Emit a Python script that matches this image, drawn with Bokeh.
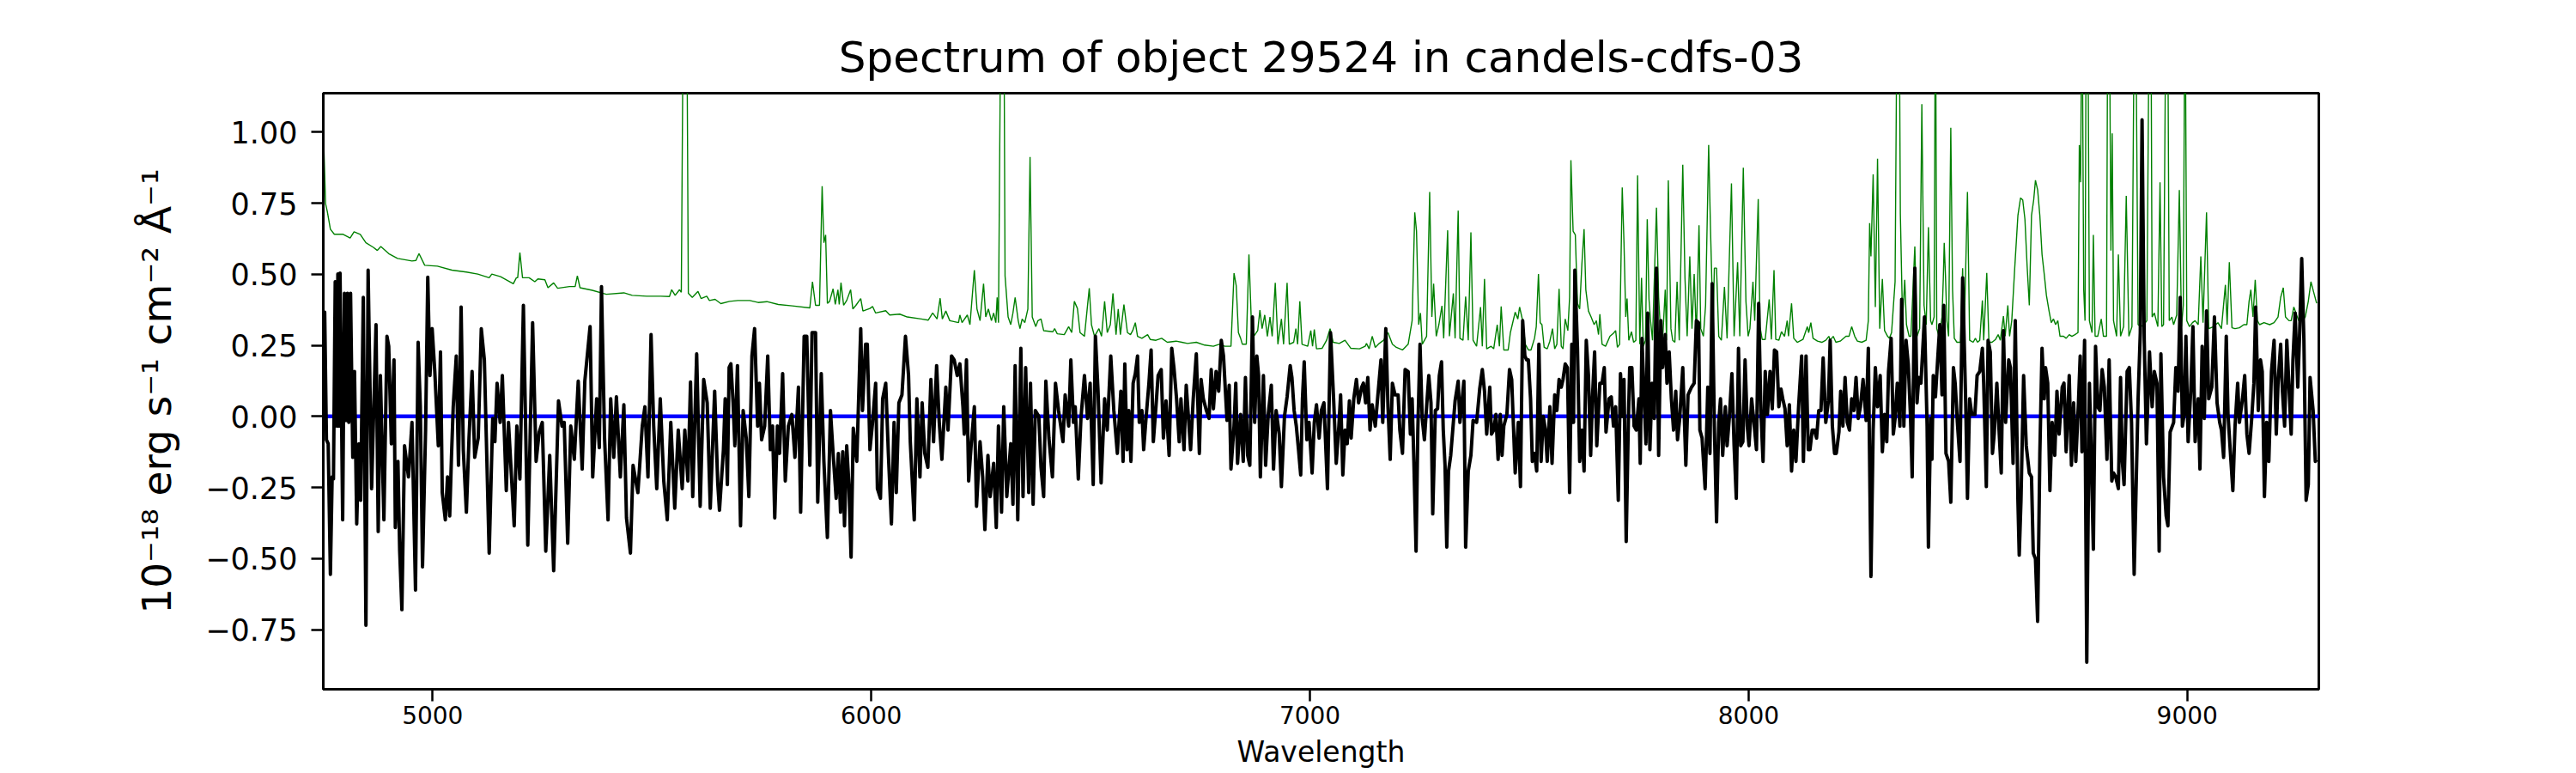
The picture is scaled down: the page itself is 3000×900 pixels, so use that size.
from bokeh.plotting import figure
from bokeh.models import Range1d, FixedTicker, Span
from bokeh.embed import file_html
from bokeh.resources import INLINE

# ---------------- text ----------------
title_text = "Spectrum of object 29524 in candels-cdfs-03"
x_label = "Wavelength"
y_label = "10\u207b\u00b9\u2078 erg s\u207b\u00b9 cm\u207b\u00b2 \u00c5\u207b\u00b9"
x_ticks = [5000, 6000, 7000, 8000, 9000]
x_tick_labels = ["5000", "6000", "7000", "8000", "9000"]
y_ticks = [-0.75, -0.5, -0.25, 0.0, 0.25, 0.5, 0.75, 1.0]
y_tick_labels = ["\u22120.75", "\u22120.50", "\u22120.25", "0.00", "0.25", "0.50", "0.75", "1.00"]
x_limits = [4750.8, 9300.0]
y_limits = [-0.960, 1.1375]
zero_level = 0.0

# ---------------- flux (black) ----------------
flux_wave_1 = [4749,4754,4758,4762,4767,4771,4774,4778,4782,4784,
               4787,4789,4795,4799,4803,4806,4809,4813,4818,4822,
               4827,4832,4836,4842,4848,4853,4861,4871,4876,4881,
               4889,4896,4900,4906,4912,4915,4921,4925,4930,4936,
               4945,4953,4961,4967,4972,4977,4984,4989,4994,4999,
               5005,5013,5018,5022,5029,5034,5039,5043,5047,5054,
               5059,5065,5070,5077,5083,5090,5096,5104,5111,5118,
               5129,5137,5142,5147,5154,5159,5168,5173,5186,5192,
               5199,5207,5217,5228,5236,5243,5250,5258,5267,5276,
               5287,5295,5300,5308,5315,5323,5332,5341,5347,5359,
               5365,5374,5380,5385,5392,5400,5406,5413,5419,5428,
               5436,5442,5451,5457,5468,5478,5484,5491,5498,5504,
               5511,5519,5527,5535,5543,5552,5560,5569,5575,5582,
               5588,5593,5602,5610,5618,5626,5633,5643,5650,5654]
flux_vals_1 = [0.282,0.367,-0.082,-0.096,-0.556,-0.213,-0.220,0.474,-0.034,0.501,
               -0.034,0.504,-0.364,0.433,-0.014,0.433,-0.021,0.433,-0.144,0.158,
               -0.378,-0.096,-0.295,0.419,-0.735,0.515,-0.254,0.323,-0.405,0.144,
               -0.364,0.282,0.247,-0.096,0.199,-0.391,-0.158,-0.474,-0.680,-0.103,
               -0.213,-0.021,-0.611,0.261,0.034,-0.529,-0.048,0.490,0.144,0.309,
               0.158,-0.103,0.227,-0.268,-0.364,-0.213,-0.350,-0.144,0.034,0.213,
               -0.172,0.385,-0.117,-0.337,-0.076,0.158,-0.144,-0.076,0.309,0.199,
               -0.481,-0.007,-0.089,0.117,-0.021,0.144,-0.261,-0.021,-0.385,-0.034,
               -0.220,0.391,-0.453,0.330,-0.158,-0.055,-0.021,-0.474,-0.137,-0.543,
               0.055,-0.034,-0.021,-0.446,-0.034,-0.151,0.124,-0.185,0.124,0.316,
               -0.213,0.062,-0.110,0.457,-0.076,-0.364,0.062,-0.144,0.069,-0.213,
               0.041,-0.357,-0.481,-0.172,-0.268,-0.034,0.034,-0.213,0.288,-0.034,
               -0.254,0.062,-0.227,-0.364,-0.021,-0.323,-0.048,-0.254,-0.048,-0.227,
               0.121,-0.282,0.220,-0.316,0.130,0.048,-0.323,0.089,-0.234,-0.330]

flux_wave_2 = [5663,5667,5672,5676,5680,5685,5689,5695,5702,5708,
               5715,5721,5728,5734,5741,5745,5750,5757,5764,5770,
               5775,5780,5786,5791,5798,5804,5811,5819,5826,5834,
               5839,5847,5853,5860,5865,5873,5878,5886,5892,5900,
               5907,5913,5920,5925,5930,5935,5939,5944,5949,5954,
               5959,5967,5976,5980,5987,5991,5997,6003,6010,6014,
               6021,6026,6033,6039,6046,6052,6057,6063,6070,6078,
               6085,6089,6098,6104,6111,6116,6122,6129,6136,6142,
               6149,6155,6161,6170,6175,6183,6189,6196,6202,6209,
               6212,6217,6222,6228,6235,6240,6248,6254,6259,6266,
               6271,6279,6285,6290,6297,6302,6309,6318,6323,6328,
               6334,6341,6346,6352,6359,6363,6369,6374,6382,6387,
               6393,6398,6405,6413,6420,6427,6437,6442,6450,6455,
               6461,6465,6472,6478,6486,6493,6499,6506,6511,6517,
               6524,6532,6538,6546,6553,6561,6569,6574]
flux_vals_2 = [-0.117,0.062,-0.240,0.172,0.185,0.048,-0.103,0.179,-0.385,0.021,
               -0.076,-0.282,0.213,0.309,-0.034,0.117,-0.082,-0.034,0.213,-0.117,
               -0.034,-0.357,-0.034,-0.130,0.151,-0.227,-0.034,0.007,-0.144,0.103,
               -0.337,0.282,0.282,-0.172,0.295,0.295,-0.302,0.151,-0.158,-0.426,
               0.021,-0.130,-0.288,-0.130,-0.337,-0.124,-0.385,-0.103,-0.240,-0.495,
               -0.041,-0.158,0.309,0.021,0.254,0.254,-0.117,-0.021,0.117,-0.254,
               -0.288,0.062,0.117,-0.130,-0.378,-0.021,-0.268,0.048,0.076,0.282,
               0.144,-0.089,-0.364,0.062,-0.213,0.048,-0.130,-0.179,0.130,-0.089,
               0.179,-0.021,-0.151,0.103,-0.048,0.213,0.199,0.144,0.185,0.034,
               -0.062,0.199,-0.227,-0.096,0.034,-0.316,-0.089,-0.213,-0.398,-0.137,
               -0.282,-0.165,-0.391,-0.034,-0.337,0.034,-0.282,-0.096,-0.309,0.179,
               -0.364,0.240,-0.282,0.172,-0.268,0.117,-0.309,0.021,0.000,-0.179,
               -0.282,0.124,-0.076,-0.213,0.117,0.021,-0.089,0.076,-0.034,0.199,
               -0.021,0.034,-0.220,-0.007,0.144,-0.007,0.117,-0.240,0.282,0.089,
               -0.234,0.062,-0.048,0.213,0.021,-0.130,0.089,-0.158]

flux_wave_3 = [6578,6583,6587,6592,6597,6602,6607,6611,6617,6621,
               6626,6633,6638,6643,6649,6654,6661,6666,6672,6679,
               6685,6690,6696,6702,6706,6713,6718,6722,6728,6734,
               6741,6748,6752,6757,6764,6770,6775,6780,6786,6792,
               6798,6803,6811,6816,6820,6827,6831,6835,6842,6848,
               6853,6858,6863,6869,6874,6879,6883,6887,6894,6899,
               6905,6912,6917,6923,6930,6935,6942,6948,6955,6959,
               6964,6969,6974,6979,6983,6987,6993,6998,7005,7010,
               7015,7021,7026,7032,7040,7047,7054,7060,7066,7070,
               7075,7080,7085,7090,7094,7100,7106,7111,7118,7122,
               7127,7132,7137,7142,7149,7155,7162,7166,7173,7178,
               7183,7188,7194,7201,7205,7211,7217,7224,7229,7233,
               7237,7242,7246,7251,7256,7261,7266,7271,7276,7280,
               7286,7291,7295,7300,7304,7308,7312,7316,7321,7327,
               7331,7338,7342,7351,7355,7361,7367,7372,7380,7387,
               7393,7398,7403,7410,7414,7419,7424,7429,7434,7438,
               7442,7449,7455,7460,7464,7468,7475,7480,7485,7490,
               7494]
flux_vals_3 = [0.185,-0.117,0.021,-0.158,0.117,0.151,0.213,-0.021,0.021,-0.117,
               -0.014,0.117,0.234,-0.089,0.034,0.144,0.165,-0.076,0.055,-0.137,
               0.240,0.172,0.062,-0.089,0.062,-0.117,0.110,0.021,-0.117,0.062,
               0.220,-0.130,0.130,0.062,0.021,-0.007,0.165,0.027,0.158,0.089,
               0.268,0.213,-0.014,0.110,-0.185,-0.034,0.117,-0.165,0.007,-0.158,
               0.137,-0.137,-0.172,0.350,-0.021,0.213,0.144,-0.213,0.144,-0.172,
               0.007,0.110,-0.185,0.021,-0.062,-0.247,0.000,0.069,0.179,0.137,
               0.021,-0.034,-0.117,-0.206,0.062,0.192,-0.082,-0.021,-0.199,-0.021,
               0.041,-0.076,0.021,0.048,-0.254,0.295,0.062,-0.165,-0.034,0.076,
               -0.206,-0.048,-0.096,0.055,-0.076,0.062,0.130,0.048,0.103,0.117,
               0.048,0.137,-0.048,0.041,-0.034,0.076,0.199,-0.021,0.309,0.034,
               -0.151,0.117,0.076,0.076,-0.048,-0.130,0.165,0.158,-0.062,0.062,
               -0.158,-0.474,-0.048,0.254,-0.007,-0.082,0.034,0.144,0.048,-0.343,
               0.021,0.027,0.144,0.192,-0.048,-0.172,-0.460,-0.192,-0.137,-0.021,
               0.055,0.124,-0.021,0.124,-0.460,-0.192,-0.137,-0.014,-0.021,0.096,
               0.165,0.089,-0.062,0.103,-0.062,-0.048,0.007,-0.151,0.007,-0.137,
               -0.034,0.007,0.165,0.130,-0.034,-0.199,-0.021,-0.247,0.337,0.213,
               0.199]

flux_wave_4 = [7498,7503,7507,7512,7517,7522,7527,7532,7537,7541,
               7547,7552,7558,7563,7568,7573,7577,7582,7587,7592,
               7597,7601,7604,7610,7615,7620,7625,7630,7635,7640,
               7644,7649,7654,7661,7666,7671,7675,7682,7687,7692,
               7697,7703,7708,7713,7716,7721,7726,7729,7734,7739,
               7744,7750,7753,7757,7762,7766,7770,7775,7780,7785,
               7790,7795,7800,7804,7810,7814,7819,7824,7829,7834,
               7838,7843,7850,7857,7862,7870,7876,7881,7886,7889,
               7894,7901,7907,7912,7917,7922,7927,7932,7936,7941,
               7947,7951,7956,7962,7967,7972,7977,7982,7987,7992,
               7997,8001,8007,8013,8018,8023,8028,8033,8038,8043,
               8049,8054,8059,8064,8069,8074,8078,8083,8088,8093,
               8098,8103,8108,8114,8121,8125,8131,8136,8140,8145,
               8150,8155,8160,8165,8170,8176,8182,8186,8191,8196,
               8200,8206,8210,8215,8220,8225,8230,8235,8240,8245,
               8250,8255,8261,8268,8273,8279,8284,8289,8294,8300,
               8305,8310,8315,8319,8325,8330,8334,8339,8345,8349,
               8354,8359,8364,8369,8373,8379,8384,8388,8393,8401,
               8407,8410,8415]
flux_vals_4 = [0.199,0.062,-0.158,-0.130,-0.192,0.254,-0.158,0.000,-0.048,-0.158,
               0.034,-0.165,0.076,0.021,0.130,0.103,0.130,0.185,0.172,-0.268,
               0.254,-0.021,0.515,0.240,-0.158,-0.048,-0.192,0.268,0.144,-0.137,
               0.062,0.227,-0.103,0.117,0.117,0.172,-0.055,0.062,0.069,-0.034,
               0.034,-0.295,0.151,0.000,0.130,-0.440,-0.014,0.172,0.172,-0.034,
               -0.048,0.062,-0.165,0.275,0.062,-0.096,0.364,-0.117,0.117,-0.007,
               0.522,-0.137,0.337,0.172,0.288,0.117,0.227,0.062,-0.048,0.089,
               -0.082,-0.007,0.172,-0.172,0.076,0.103,0.117,0.337,0.330,-0.048,
               -0.076,-0.254,0.103,-0.130,0.467,-0.034,-0.371,-0.021,0.062,-0.137,
               0.034,-0.103,-0.007,0.151,-0.103,-0.288,0.240,-0.103,-0.089,0.199,
               -0.034,-0.103,0.062,-0.034,-0.117,0.398,0.021,-0.158,0.158,0.007,
               0.158,0.027,0.234,0.227,0.034,0.096,0.062,0.027,-0.103,0.041,
               -0.192,-0.048,-0.158,0.034,0.213,-0.158,0.213,-0.117,-0.117,-0.048,
               -0.048,-0.076,0.021,0.021,0.206,-0.021,0.055,0.268,-0.034,-0.130,
               -0.130,-0.055,0.089,-0.034,0.137,-0.021,-0.048,0.062,0.021,0.137,
               -0.007,0.034,0.130,-0.014,0.240,-0.563,-0.048,0.172,0.034,0.144,
               -0.124,0.007,-0.089,0.158,0.275,-0.062,-0.007,0.117,-0.034,0.412,
               -0.034,0.268,0.185,0.007,-0.213,0.522,0.048,0.137,0.117,0.350,
               -0.034,-0.460,-0.007]

flux_wave_5 = [8418,8421,8426,8431,8436,8441,8445,8450,8456,8461,
               8467,8471,8476,8482,8488,8495,8499,8504,8509,8516,
               8521,8527,8533,8536,8542,8546,8551,8556,8560,8566,
               8571,8576,8581,8586,8593,8597,8603,8608,8614,8617,
               8621,8627,8633,8640,8645,8649,8654,8659,8664,8669,
               8674,8677,8682,8687,8692,8698,8703,8708,8715,8719,
               8724,8731,8736,8741,8746,8752,8756,8760,8766,8771,
               8777,8781,8786,8791,8796,8801,8806,8811,8817,8822,
               8828,8832,8837,8843,8848,8852,8856,8863,8868,8873,
               8879,8888,8893,8897,8902,8907,8914,8920,8925,8931,
               8936,8940,8946,8952,8956,8961,8969,8974,8979,8984,
               8989,8993,8997,9002,9008,9013,9018,9025,9029,9034,
               9039,9044,9049,9056,9062,9068,9074,9078,9083,9089,
               9093,9098,9104,9109,9115,9119,9126,9131,9136,9141,
               9147,9152,9156,9162,9167,9171,9176,9181,9186,9192,
               9198,9203,9207,9213,9217,9222,9227,9232,9237,9241,
               9246,9252,9256,9261,9266,9271,9276,9280,9287,9292,
               9295]
flux_vals_5 = [-0.151,0.144,0.069,0.199,0.323,0.076,0.391,-0.130,-0.158,-0.302,
               0.172,0.117,-0.021,-0.158,0.488,0.048,-0.288,0.062,0.007,0.007,
               0.144,0.158,0.240,0.117,-0.247,0.268,0.227,-0.130,-0.062,0.117,
               -0.048,-0.199,0.302,-0.021,0.199,0.172,-0.165,0.337,-0.295,-0.488,
               -0.295,0.144,-0.103,-0.199,-0.213,-0.481,-0.501,-0.721,-0.130,0.240,
               0.062,0.172,0.117,-0.261,-0.021,-0.137,0.089,-0.062,0.103,0.117,
               -0.124,0.144,-0.172,0.048,-0.158,0.048,0.213,-0.124,0.268,-0.865,
               0.117,-0.117,-0.467,0.247,0.034,0.021,0.165,0.103,-0.151,0.199,
               -0.227,-0.199,-0.213,-0.254,0.137,-0.158,-0.240,0.158,0.172,-0.021,
               -0.556,0.062,0.295,1.044,0.268,-0.096,0.227,0.034,0.158,0.117,
               -0.474,0.220,-0.213,-0.350,-0.385,-0.055,-0.021,0.172,0.089,0.419,
               -0.034,0.007,0.282,-0.089,0.089,0.316,-0.089,0.062,-0.185,0.247,
               -0.007,0.371,0.062,0.103,0.350,0.048,-0.021,-0.048,-0.144,0.282,
               0.007,-0.117,-0.261,-0.034,0.117,-0.021,0.062,0.144,-0.062,-0.130,
               -0.007,0.117,0.385,0.021,0.199,0.158,-0.282,-0.021,-0.158,0.158,
               0.268,-0.062,0.117,0.254,0.089,-0.034,0.268,0.103,-0.062,0.199,
               0.364,0.103,0.282,0.556,0.268,-0.295,-0.240,0.137,0.021,-0.158,
               -0.151]

# ---------------- noise / sky (green) ----------------
noise_wave_1 = [4752,4756,4760,4767,4776,4796,4812,4821,4835,4848,
                4865,4874,4882,4900,4920,4953,4962,4969,4982,5011,
                5044,5077,5103,5129,5135,5155,5184,5191,5194,5199,
                5205,5220,5233,5240,5256,5263,5276,5285,5312,5325,
                5330,5336,5364,5396,5436,5455,5488,5520,5540,5545,
                5553,5563,5567,5572,5579,5583,5592,5605,5612,5625,
                5631,5644]
noise_vals_1 = [0.955,0.749,0.721,0.659,0.641,0.641,0.628,0.650,0.641,0.611,
                0.595,0.584,0.598,0.573,0.556,0.547,0.549,0.573,0.532,0.529,
                0.515,0.508,0.501,0.488,0.501,0.492,0.467,0.488,0.488,0.577,
                0.488,0.488,0.474,0.484,0.481,0.453,0.470,0.451,0.457,0.457,
                0.495,0.453,0.444,0.430,0.435,0.426,0.423,0.423,0.422,0.446,
                0.426,0.446,0.437,1.6,1.6,0.433,0.419,0.440,0.415,0.423,
                0.408,0.412]

noise_wave_2 = [5657,5677,5696,5723,5742,5762,5788,5820,5860,5866,
                5873,5882,5888,5892,5896,5900,5905,5913,5918,5924,
                5927,5931,5937,5944,5953,5958,5965,5976,5981,5997,
                6003,6010,6033,6042,6065,6082,6114,6130,6140,6150,
                6157,6162,6170,6179,6199,6202,6207,6219,6225,6235,
                6241,6248,6256,6261,6267,6274,6279,6284,6287,6290,
                6296,6302,6305,6312,6318,6323,6328,6335,6339,6344,
                6350,6357,6362,6367,6375,6380,6387,6393,6414,6418,
                6424,6440,6450,6457,6463,6470,6476,6486,6497,6502,
                6509,6519,6525,6532,6538,6545,6551,6558,6563,6568,
                6576]
noise_vals_2 = [0.397,0.405,0.408,0.408,0.401,0.404,0.394,0.389,0.382,0.474,
                0.391,0.391,0.810,0.611,0.639,0.398,0.405,0.449,0.394,0.446,
                0.394,0.471,0.391,0.408,0.446,0.378,0.391,0.415,0.371,0.380,
                0.387,0.364,0.372,0.357,0.360,0.350,0.343,0.339,0.364,0.343,
                0.416,0.343,0.371,0.337,0.330,0.357,0.330,0.357,0.323,0.515,
                0.378,0.337,0.467,0.350,0.378,0.337,0.364,0.330,0.419,0.330,
                1.6,1.6,0.495,0.350,0.323,0.364,0.419,0.337,0.309,0.343,
                0.330,0.378,0.913,0.350,0.316,0.337,0.343,0.302,0.298,0.309,
                0.291,0.288,0.316,0.295,0.405,0.380,0.295,0.282,0.451,0.323,
                0.282,0.309,0.282,0.405,0.295,0.323,0.433,0.288,0.378,0.288,
                0.394]

noise_wave_3 = [6584,6591,6596,6602,6607,6617,6630,6636,6649,6662,
                6675,6695,6708,6721,6741,6760,6780,6793,6806,6820,
                6827,6832,6837,6842,6846,6855,6861,6867,6872,6881,
                6886,6891,6897,6903,6909,6914,6921,6927,6935,6940,
                6948,6953,6963,6968,6972,6977,6982,6995,7002,7006,
                7010,7015,7028,7038,7046,7053,7067,7080,7093,7113,
                7126,7129,7135,7142,7149,7158,7168,7178,7188,7197,
                7211,7224,7233,7239,7243,7248,7252,7256,7266,7273,
                7278,7282,7288,7294,7301,7305,7314,7318,7327,7331,
                7338,7342,7349,7355,7361,7367,7372,7380,7389,7393,
                7398,7403,7413,7419,7427,7432,7436,7442,7452,7457,
                7468,7474,7478,7485,7491]
noise_vals_3 = [0.295,0.288,0.302,0.330,0.282,0.275,0.288,0.271,0.268,0.275,
                0.261,0.265,0.261,0.257,0.261,0.251,0.247,0.254,0.247,0.247,
                0.504,0.460,0.295,0.275,0.254,0.254,0.570,0.309,0.282,0.302,
                0.374,0.309,0.357,0.282,0.350,0.282,0.470,0.254,0.343,0.254,
                0.470,0.254,0.261,0.309,0.254,0.405,0.254,0.247,0.302,0.247,
                0.306,0.238,0.240,0.268,0.309,0.261,0.257,0.268,0.240,0.238,
                0.247,0.257,0.238,0.282,0.243,0.257,0.268,0.295,0.254,0.243,
                0.234,0.254,0.337,0.718,0.652,0.323,0.364,0.254,0.282,0.790,
                0.350,0.467,0.282,0.323,0.389,0.275,0.655,0.282,0.433,0.275,
                0.724,0.275,0.268,0.422,0.268,0.648,0.268,0.247,0.385,0.247,
                0.484,0.238,0.247,0.238,0.323,0.247,0.387,0.234,0.234,0.295,
                0.367,0.343,0.385,0.337,0.254]

noise_wave_4 = [7498,7504,7512,7516,7521,7525,7529,7534,7541,7547,
                7553,7558,7563,7568,7573,7577,7582,7588,7592,7595,
                7600,7605,7610,7615,7620,7625,7629,7635,7641,7648,
                7653,7658,7661,7666,7674,7684,7692,7697,7701,7706,
                7712,7716,7720,7723,7727,7733,7738,7743,7747,7752,
                7756,7760,7765,7769,7773,7777,7781,7790,7795,7799,
                7804,7810,7813,7817,7823,7827,7832,7837,7842,7850,
                7855,7860,7866,7871,7876,7881,7887,7891,7897,7902,
                7909,7913,7919,7922,7927,7932,7938,7945,7951,7961,
                7967,7975,7980,7988,7994,7999,8003,8010,8014,8022,
                8026,8031,8038,8047,8052,8058,8062,8069,8075,8082,
                8088,8091,8098,8103,8111,8124,8134,8137,8142,8147,
                8157,8167,8176,8183,8186,8193,8199,8209,8222,8229,
                8235,8242,8248,8258,8268,8273,8276,8279,8284,8289,
                8294,8299,8305,8310,8317,8321,8326,8334,8339,8343,
                8346,8351,8356,8360,8366,8370,8374,8379,8384,8390,
                8395,8400,8405,8410,8415]
noise_vals_4 = [0.234,0.234,0.275,0.316,0.501,0.330,0.323,0.243,0.238,0.265,
                0.309,0.238,0.254,0.449,0.247,0.238,0.343,0.302,0.419,0.902,
                0.652,0.639,0.398,0.378,0.536,0.659,0.446,0.371,0.350,0.323,
                0.337,0.288,0.360,0.254,0.247,0.282,0.293,0.302,0.243,0.254,
                0.806,0.611,0.350,0.415,0.268,0.298,0.261,0.268,0.848,0.254,
                0.488,0.247,0.268,0.694,0.412,0.330,0.268,0.735,0.419,0.309,
                0.268,0.446,0.268,0.831,0.309,0.268,0.261,0.474,0.268,0.886,
                0.488,0.282,0.563,0.309,0.501,0.282,0.673,0.309,0.282,0.391,
                0.955,0.673,0.309,0.522,0.522,0.282,0.268,0.456,0.275,0.820,
                0.282,0.543,0.282,0.875,0.405,0.282,0.309,0.474,0.337,0.765,
                0.316,0.271,0.271,0.412,0.271,0.515,0.271,0.268,0.298,0.282,
                0.337,0.282,0.398,0.275,0.261,0.271,0.316,0.295,0.330,0.275,
                0.265,0.261,0.268,0.282,0.268,0.282,0.261,0.265,0.282,0.282,
                0.316,0.282,0.265,0.261,0.268,0.337,0.680,0.563,0.852,0.385,
                0.907,0.309,0.484,0.302,0.282,0.275,0.295,0.474,1.6,1.6,
                0.714,0.337,0.481,0.323,0.282,0.282,0.419,0.598,0.282,0.309,
                1.099,0.391,0.323,0.666,0.337]

noise_wave_5 = [8418,8423,8426,8429,8434,8441,8444,8446,8449,8452,
                8456,8461,8465,8469,8475,8483,8488,8491,8499,8504,
                8512,8517,8522,8527,8533,8536,8543,8548,8555,8563,
                8569,8574,8581,8585,8591,8595,8600,8607,8614,8620,
                8625,8630,8635,8640,8645,8650,8654,8659,8664,8669,
                8674,8679,8685,8690,8695,8700,8705,8710,8718,8724,
                8731,8737,8744,8751,8754,8757,8760,8764,8767,8770,
                8773,8777,8783,8786,8790,8796,8804,8809,8816,8819,
                8822,8826,8829,8832,8839,8843,8848,8855,8861,8867,
                8874,8880,8882,8888,8894,8901,8908,8914,8917,8920,
                8925,8933,8938,8942,8946,8952,8955,8959,8965,8969,
                8976,8982,8987,8991,8995,8999,9005,9012,9018,9025,
                9031,9036,9044,9049,9060,9070,9078,9087,9091,9096,
                9102,9109,9119,9129,9136,9141,9145,9150,9155,9160,
                9165,9175,9188,9198,9207,9213,9219,9224,9232,9237,
                9243,9248,9254,9263,9269,9276,9282,9289,9295]
noise_vals_5 = [0.323,0.350,1.6,0.309,0.282,0.350,0.488,0.611,0.488,0.337,
                0.282,1.016,0.446,0.275,0.261,0.261,0.522,0.254,0.790,0.268,
                0.261,0.275,0.261,0.268,0.408,0.268,0.505,0.261,0.261,0.271,
                0.288,0.268,0.353,0.282,0.391,0.282,0.337,0.529,0.707,0.769,
                0.762,0.694,0.529,0.391,0.707,0.762,0.831,0.797,0.707,0.570,
                0.501,0.426,0.371,0.330,0.343,0.323,0.337,0.282,0.282,0.275,
                0.288,0.282,0.288,0.295,0.955,0.824,1.6,0.446,0.337,1.6,
                1.6,0.337,0.295,0.639,0.282,0.282,0.343,0.282,0.282,1.6,
                1.6,0.584,0.996,0.337,0.282,0.570,0.282,0.316,0.776,0.282,
                0.316,1.6,1.6,0.323,0.316,0.323,0.337,1.6,1.6,0.350,
                0.364,0.316,0.824,0.316,0.323,1.6,1.6,0.337,0.350,0.323,
                0.357,0.797,0.316,0.391,1.6,0.337,0.316,0.330,0.337,0.323,
                0.563,0.330,0.718,0.309,0.316,0.330,0.309,0.463,0.323,0.543,
                0.312,0.309,0.312,0.323,0.323,0.405,0.446,0.350,0.481,0.337,
                0.323,0.330,0.323,0.330,0.350,0.419,0.453,0.350,0.337,0.337,
                0.385,0.364,0.337,0.337,0.350,0.405,0.474,0.433,0.398]


def join(pairs):
    xs, ys = [], []
    for w, f in pairs:
        n = min(len(w), len(f))
        xs += list(w[:n])
        ys += list(f[:n])
    return xs, ys


flux_x, flux_y = join([(flux_wave_1, flux_vals_1), (flux_wave_2, flux_vals_2),
                       (flux_wave_3, flux_vals_3), (flux_wave_4, flux_vals_4),
                       (flux_wave_5, flux_vals_5)])
noise_x, noise_y = join([(noise_wave_1, noise_vals_1), (noise_wave_2, noise_vals_2),
                         (noise_wave_3, noise_vals_3), (noise_wave_4, noise_vals_4),
                         (noise_wave_5, noise_vals_5)])

FONT = "DejaVu Sans"

p = figure(frame_width=2324, frame_height=694,
           x_range=Range1d(*x_limits), y_range=Range1d(*y_limits),
           output_backend="svg", toolbar_location=None,
           min_border_left=376, min_border_right=290,
           min_border_top=108, min_border_bottom=96)

p.background_fill_color = "white"
p.border_fill_color = "white"
p.outline_line_color = "black"
p.outline_line_width = 3
p.outline_line_alpha = 1.0
p.xgrid.visible = False
p.ygrid.visible = False

p.title.text = title_text
p.title.text_font = FONT
p.title.text_font_size = "50px"
p.title.text_font_style = "normal"
p.title.text_color = "black"
p.title.align = "center"
p.title.standoff = 25

for ax in (p.xaxis[0], p.yaxis[0]):
    ax.axis_line_color = "black"
    ax.axis_line_width = 3
    ax.major_tick_line_color = "black"
    ax.major_tick_line_width = 2.5
    ax.major_tick_in = 0
    ax.major_tick_out = 14
    ax.minor_tick_line_color = None
    ax.major_label_text_font = FONT
    ax.major_label_text_color = "black"
    ax.axis_label_text_font = FONT
    ax.axis_label_text_font_style = "normal"
    ax.axis_label_text_color = "black"

xa = p.xaxis[0]
xa.ticker = FixedTicker(ticks=x_ticks)
xa.major_label_overrides = {t: s for t, s in zip(x_ticks, x_tick_labels)}
xa.major_label_text_font_size = "28px"
xa.major_label_standoff = 5
xa.axis_label = x_label
xa.axis_label_text_font_size = "33px"
xa.axis_label_standoff = 10

ya = p.yaxis[0]
ya.ticker = FixedTicker(ticks=y_ticks)
ya.major_label_overrides = {t: s for t, s in zip(y_ticks, y_tick_labels)}
ya.major_label_text_font_size = "35px"
ya.major_label_standoff = 16
ya.axis_label = y_label
ya.axis_label_text_font_size = "47px"
ya.axis_label_standoff = 26

p.line(noise_x, noise_y, line_color="#008000", line_width=1.4)
zero = Span(location=zero_level, dimension="width", line_color="#0000ff",
            line_width=4.5, level="underlay")
p.add_layout(zero)
p.line(flux_x, flux_y, line_color="black", line_width=4, line_join="round")

open("out.html", "w").write(file_html(p, INLINE))
